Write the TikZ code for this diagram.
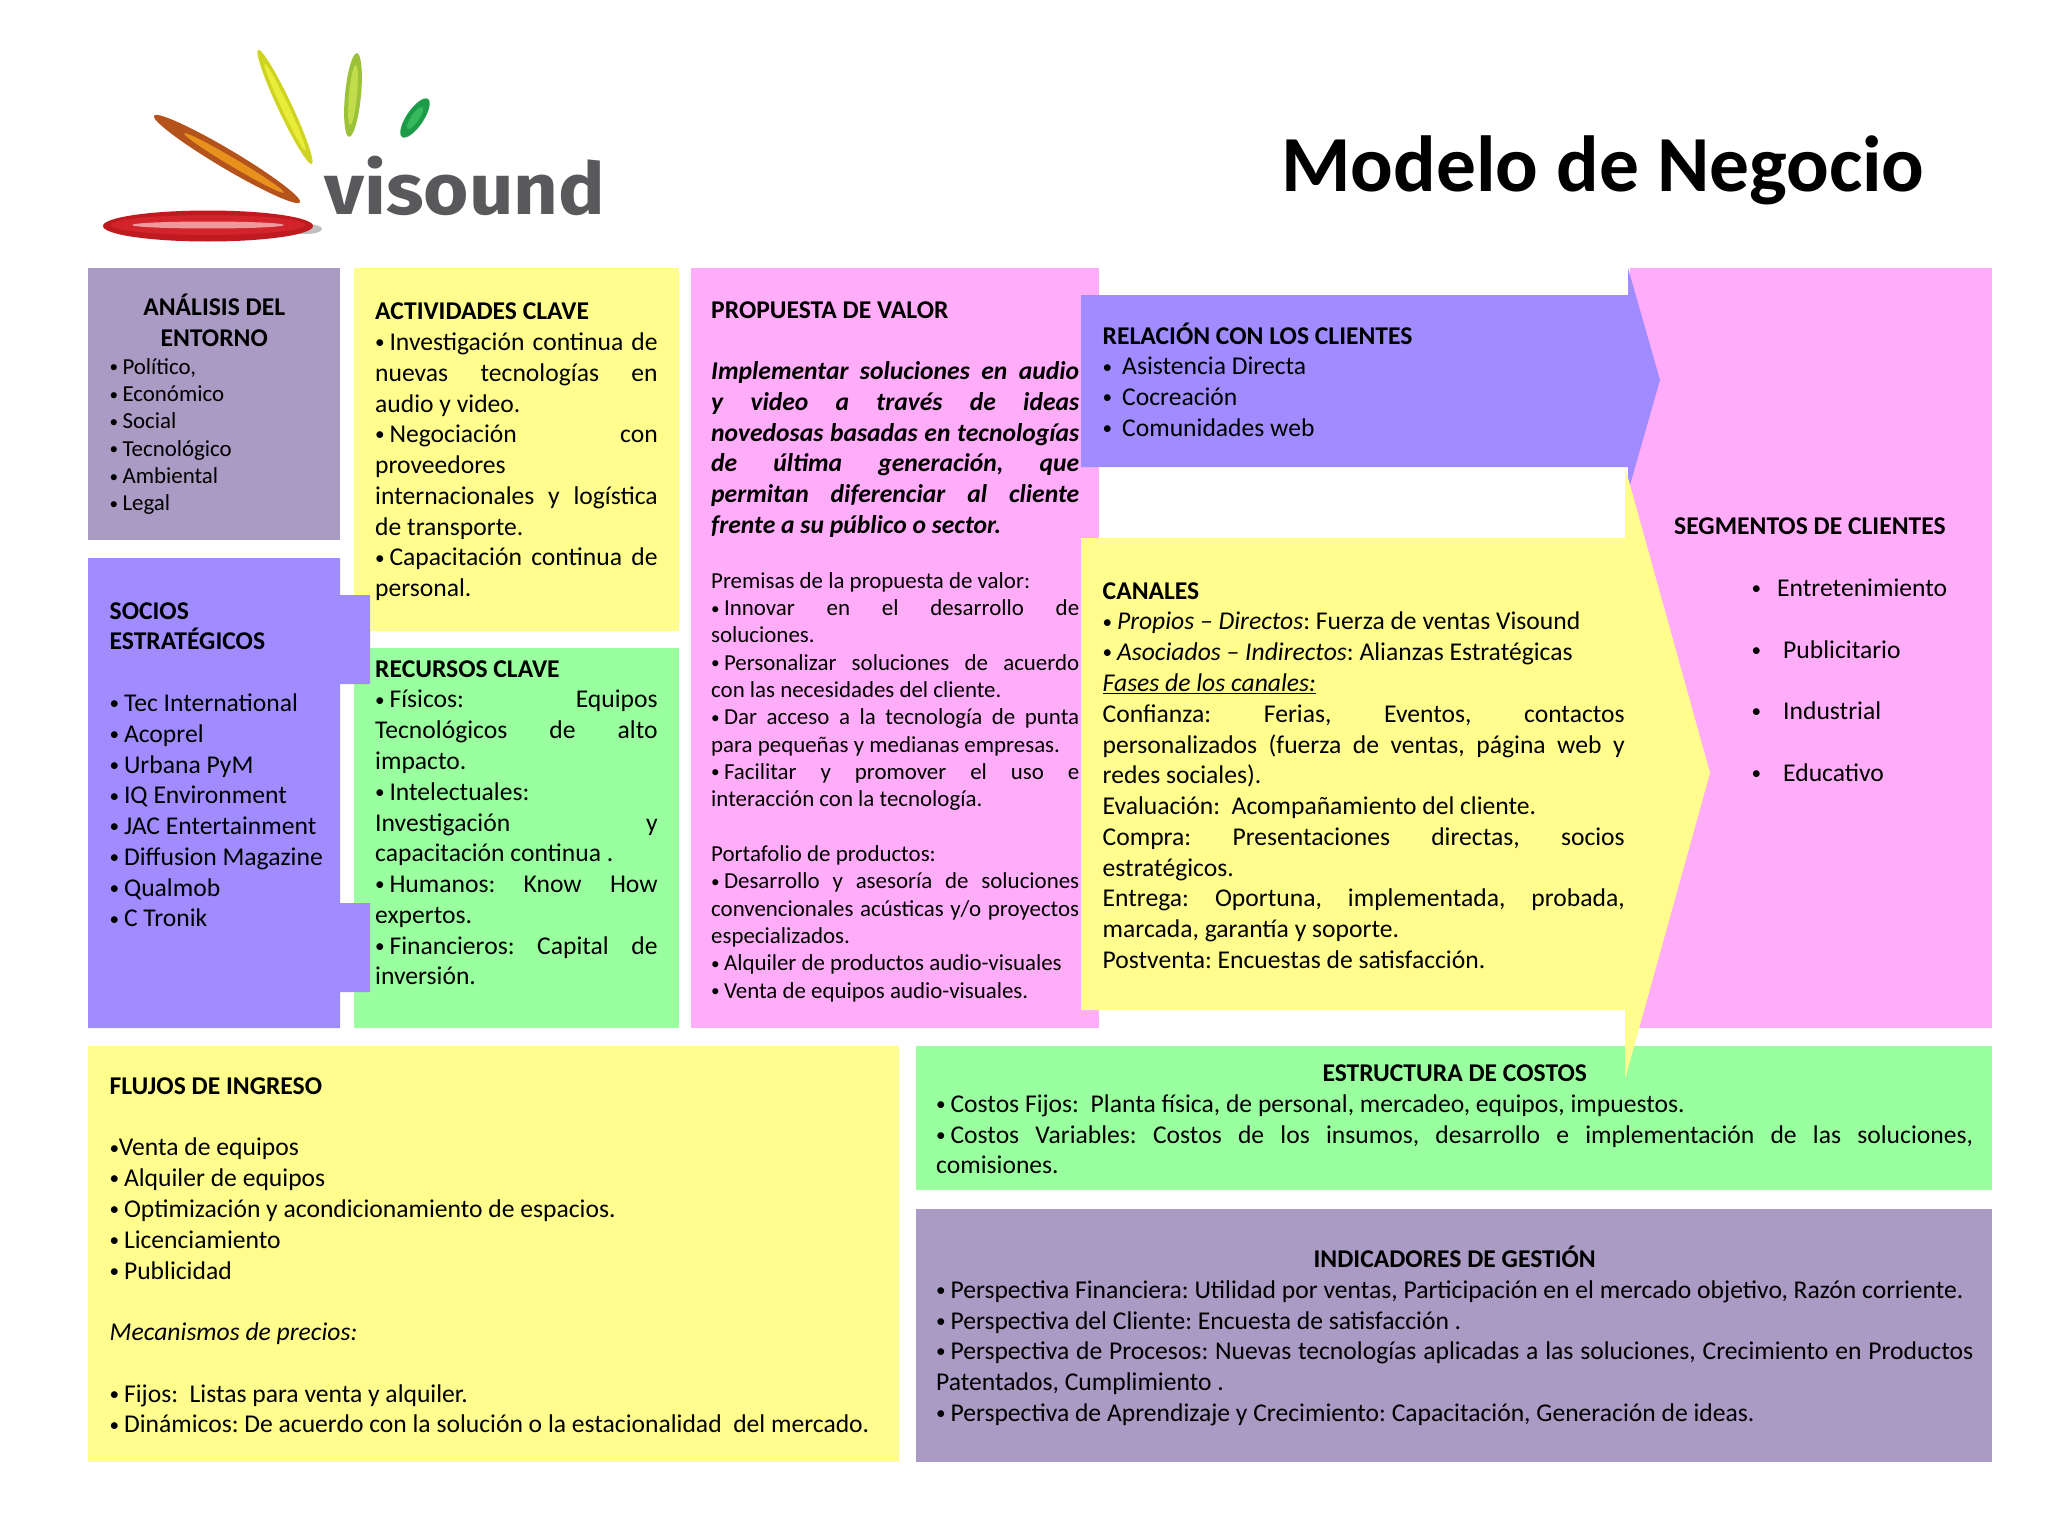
\documentclass[tikz,border=0pt]{standalone}
\usepackage{fontspec}
\setmainfont{Carlito}
\newfontfamily\logofnt{Fira Sans}
\usepackage{xcolor}
\definecolor{bxpurple}{HTML}{A99BC4}
\definecolor{bxblue}{HTML}{A18CFF}
\definecolor{bxyellow}{HTML}{FFFD8E}
\definecolor{bxgreen}{HTML}{99FF9F}
\definecolor{bxpink}{HTML}{FFADF8}
\definecolor{logogray}{HTML}{59595B}
\definecolor{ringdark}{HTML}{BE1A20}
\definecolor{ringmid}{HTML}{D4242B}
\definecolor{ringlight}{HTML}{EE9A9C}
\definecolor{orgdark}{HTML}{B4541C}
\definecolor{orglight}{HTML}{E8921E}
\definecolor{yeldark}{HTML}{CFD321}
\definecolor{yellight}{HTML}{EAEC3A}
\definecolor{limedark}{HTML}{9CC23A}
\definecolor{limelight}{HTML}{C2DC4C}
\definecolor{grndark}{HTML}{1C9C48}
\definecolor{grnlight}{HTML}{38B85C}
\newcommand{\bodyfnt}{\fontsize{25.6}{30.76}\selectfont\frenchspacing\tolerance=9999\hyphenpenalty=10000\emergencystretch=20pt}
\newcommand{\smallfnt}{\fontsize{22.9}{27.32}\selectfont\frenchspacing\tolerance=9999\hyphenpenalty=10000\emergencystretch=20pt}
\newcommand{\bdot}{\raisebox{.07em}{\scalebox{.75}{•}}}
\newcommand{\bl}{\makebox[.56em][l]{\bdot}}
\newcommand{\bul}{\makebox[19.5pt][l]{\bdot}}
\tikzstyle{bodytxt}=[anchor=north west, inner sep=0pt, align=justify, font=\bodyfnt, execute at begin node=\strut]
\tikzstyle{smalltxt}=[bodytxt, font=\smallfnt]
\tikzstyle{plaintxt}=[bodytxt, align=flush left]
\tikzstyle{midtxt}=[bodytxt, align=flush center]
\begin{document}
\begin{tikzpicture}[x=1pt,y=-1pt]
\useasboundingbox (0,0) rectangle (2048,1536);
\fill[bxpurple] (88,268) rectangle (340,539.5);
\fill[bxyellow] (354,268) rectangle (678.5,631);
\fill[bxgreen] (354,648) rectangle (678.5,1028);
\fill[bxpink] (691,268) rectangle (1099,1028);
\fill[bxpink] (1630,268) rectangle (1992,1028);
\fill[bxyellow] (88,1045.5) rectangle (899,1462);
\fill[bxgreen] (916,1045.5) rectangle (1992,1190);
\fill[bxpurple] (916,1208.5) rectangle (1992,1462);
\fill[bxblue] (88,558) -- (340,558) -- (340,595) -- (370,595) -- (370,684) -- (340,684) -- (340,903) -- (370,903) -- (370,992) -- (340,992) -- (340,1028) -- (88,1028) -- cycle;
\fill[bxblue] (1081,295) -- (1628,295) -- (1628,268) -- (1660,380) -- (1628,492) -- (1628,467) -- (1081,467) -- cycle;
\fill[bxyellow] (1081,538) -- (1625,538) -- (1625,467) -- (1710,773) -- (1625,1079) -- (1625,1010) -- (1081,1010) -- cycle;
\fill[black!25] (306,229) ellipse [x radius=16pt, y radius=5pt];
\fill[ringdark] (208,226) ellipse [x radius=105pt, y radius=15.5pt];
\fill[ringmid] (208,225) ellipse [x radius=97pt, y radius=10pt];
\fill[ringlight] (208,225) ellipse [x radius=76pt, y radius=3.5pt];
\fill[orgdark, shift={(227,159)}, rotate=-30.7] (0,0) ellipse [x radius=85pt, y radius=9.5pt];
\fill[orglight, shift={(234,163)}, rotate=-30.7] (0,0) ellipse [x radius=58pt, y radius=4pt];
\fill[yeldark, shift={(285,107)}, rotate=-64.8] (0,0) ellipse [x radius=63pt, y radius=7pt];
\fill[yellight, shift={(285,107)}, rotate=-64.8] (0,0) ellipse [x radius=48pt, y radius=3.5pt];
\fill[limedark, shift={(353,95)}, rotate=84.6] (0,0) ellipse [x radius=42pt, y radius=8pt];
\fill[limelight, shift={(353,95)}, rotate=84.6] (0,0) ellipse [x radius=30pt, y radius=4pt];
\fill[grndark, shift={(415,118)}, rotate=55.8] (0,0) ellipse [x radius=23pt, y radius=8.5pt];
\fill[grnlight, shift={(415,118)}, rotate=55.8] (0,0) ellipse [x radius=13pt, y radius=4pt];
\node[anchor=base west, inner sep=0pt, text=logogray, xscale=1.08, font=\logofnt\bfseries\fontsize{72}{72}\selectfont] (logotxt) at (324,214) {visound};
\node[anchor=base west, inner sep=0pt, font=\bfseries\fontsize{79.5}{79.5}\selectfont] (titulo) at (1281,191) {Modelo de Negocio};
\node[midtxt, text width=252pt] (entornotit) at (88,294) {\textbf{ANÁLISIS DEL\\ENTORNO}};
\node[smalltxt, align=flush left, text width=220pt] (entorno) at (109.5,355) {\bl Político,\\\bl Económico\\\bl Social\\\bl Tecnológico\\\bl Ambiental\\\bl Legal};
\node[plaintxt, text width=240pt] (socios) at (109.5,597.5) {\textbf{SOCIOS\\ESTRATÉGICOS}\\\mbox{}\\\bl Tec International\\\bl Acoprel\\\bl Urbana PyM\\\bl IQ Environment\\\bl JAC Entertainment\\\bl Diffusion Magazine\\\bl Qualmob\\\bl C Tronik};
\node[bodytxt, text width=282.5pt] (actividades) at (375,298) {\textbf{ACTIVIDADES CLAVE}\\\bl Investigación continua de\linebreak nuevas tecnologías en\linebreak audio y video.\\\bl Negociación con\linebreak proveedores\\internacionales y logística\linebreak de transporte.\\\bl Capacitación continua de\linebreak personal.};
\node[bodytxt, text width=282.5pt] (recursos) at (375,655.5) {\textbf{RECURSOS CLAVE}\\\bl Físicos: Equipos\linebreak Tecnológicos de alto\linebreak impacto.\\\bl Intelectuales:\\Investigación y\linebreak capacitación continua .\\\bl Humanos: Know How\linebreak expertos.\\\bl Financieros: Capital de\linebreak inversión.};
\node[bodytxt, text width=368pt] (propuesta) at (711,296.3) {\textbf{PROPUESTA DE VALOR}\\\mbox{}\\\textbf{\textit{Implementar soluciones en audio\linebreak y video a través de ideas\linebreak novedosas basadas en tecnologías\linebreak de última generación, que\linebreak permitan diferenciar al cliente\linebreak frente a su público o sector.}}};
\node[smalltxt, text width=368pt] (premisas) at (711,569) {Premisas de la propuesta de valor:\\\bl Innovar en el desarrollo de\linebreak soluciones.\\\bl Personalizar soluciones de acuerdo\linebreak con las necesidades del cliente.\\\bl Dar acceso a la tecnología de punta\linebreak para pequeñas y medianas empresas.\\\bl Facilitar y promover el uso e\linebreak interacción con la tecnología.\\\mbox{}\\Portafolio de productos:\\\bl Desarrollo y asesoría de soluciones\linebreak convencionales acústicas y/o proyectos\linebreak especializados.\\\bl Alquiler de productos audio-visuales\\\bl Venta de equipos audio-visuales.};
\node[plaintxt, text width=500pt] (relacion) at (1102.5,322.5) {\textbf{RELACIÓN CON LOS CLIENTES}\\\bul Asistencia Directa\\\bul Cocreación\\\bul Comunidades web};
\node[bodytxt, text width=522pt] (canales) at (1102.5,577.5) {\textbf{CANALES}\\\bl \textit{Propios – Directos}: Fuerza de ventas Visound\\\bl \textit{Asociados – Indirectos}: Alianzas Estratégicas\\\underline{\textit{Fases de los canales:}}\\Confianza: Ferias, Eventos, contactos\linebreak personalizados (fuerza de ventas, página web y\linebreak redes sociales).\\Evaluación:~ Acompañamiento del cliente.\\Compra: Presentaciones directas, socios\linebreak estratégicos.\\Entrega: Oportuna, implementada, probada,\linebreak marcada, garantía y soporte.\\Postventa: Encuestas de satisfacción.};
\node[plaintxt, text width=300pt] (segmentos) at (1674,513) {\textbf{SEGMENTOS DE CLIENTES}};
\node[plaintxt, text width=230pt] (segmentoslst) at (1751.5,575) {\makebox[25.5pt][l]{\bdot}Entretenimiento\\\mbox{}\\\makebox[31.5pt][l]{\bdot}Publicitario\\\mbox{}\\\makebox[31.5pt][l]{\bdot}Industrial\\\mbox{}\\\makebox[31.5pt][l]{\bdot}Educativo};
\node[plaintxt, text width=780pt] (flujos) at (109.5,1072.7) {\textbf{FLUJOS DE INGRESO}\\\mbox{}\\\makebox[.36em][l]{\bdot}Venta de equipos\\\bl Alquiler de equipos\\\bl Optimización y acondicionamiento de espacios.\\\bl Licenciamiento\\\bl Publicidad\\\mbox{}\\\textit{Mecanismos de precios:}\\\mbox{}\\\bl Fijos:~ Listas para venta y alquiler.\\\bl Dinámicos: De acuerdo con la solución o la estacionalidad~ del mercado.};
\node[midtxt, text width=1037pt] (costostit) at (936,1059.7) {\textbf{ESTRUCTURA DE COSTOS}};
\node[bodytxt, text width=1037pt] (costos) at (936,1090.5) {\bl Costos Fijos:~ Planta física, de personal, mercadeo, equipos, impuestos.\\\bl Costos Variables: Costos de los insumos, desarrollo e implementación de las soluciones,\linebreak comisiones.};
\node[midtxt, text width=1037pt] (indicadorestit) at (936,1245.5) {\textbf{INDICADORES DE GESTIÓN}};
\node[bodytxt, text width=1037pt] (indicadores) at (936,1276.5) {\bl Perspectiva Financiera: Utilidad por ventas, Participación en el mercado objetivo, Razón corriente.\\\bl Perspectiva del Cliente: Encuesta de satisfacción .\\\bl Perspectiva de Procesos: Nuevas tecnologías aplicadas a las soluciones, Crecimiento en Productos\linebreak Patentados, Cumplimiento .\\\bl Perspectiva de Aprendizaje y Crecimiento: Capacitación, Generación de ideas.};
\end{tikzpicture}
\end{document}
